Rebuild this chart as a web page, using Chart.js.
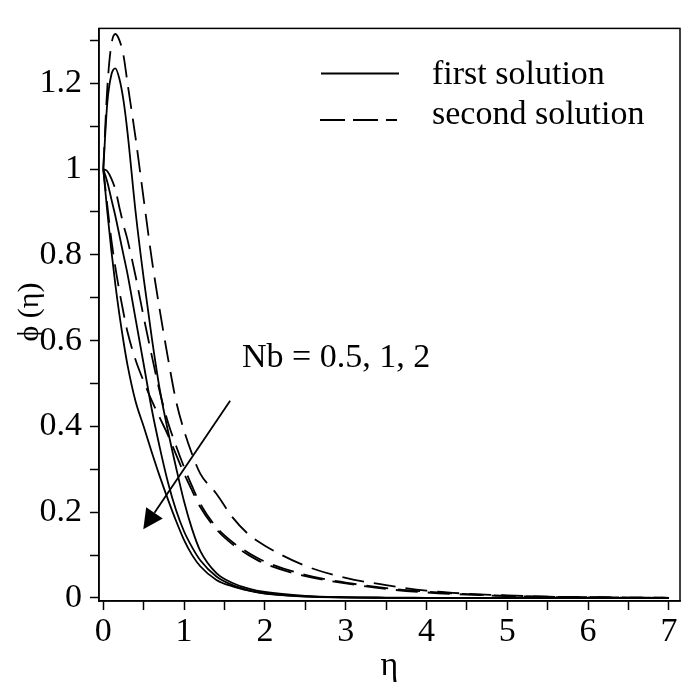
<!DOCTYPE html>
<html>
<head>
<meta charset="utf-8">
<script src="https://cdn.jsdelivr.net/npm/chart.js@4.4.1/dist/chart.umd.min.js"></script>
<style>
  html, body { margin: 0; padding: 0; background: #fff; }
  canvas { display: block; }
</style>
</head>
<body>
<canvas id="phiChart" width="685" height="694"></canvas>
<script>
const SERIF = "'Liberation Serif', 'Times New Roman', serif";

// eta grid shared by every curve
const eta = [0, 0.05, 0.1, 0.15, 0.2, 0.25, 0.3, 0.4, 0.5, 0.6, 0.7, 0.8, 0.9, 1.0, 1.1, 1.2,
             1.4, 1.6, 1.8, 2.0, 2.5, 3, 3.5, 4, 4.5, 5, 5.5, 6, 6.5, 7];

// first solution (solid)
const firstNb05 = [1.0, 1.155, 1.22, 1.235, 1.21, 1.16, 1.085, 0.9, 0.745, 0.607, 0.485, 0.39, 0.305, 0.225, 0.16, 0.11,
                   0.058, 0.035, 0.022, 0.014, 0.005, 0.002, 0.001, 0.0005, 0, 0, 0, 0, 0, 0];
const firstNb1  = [1.0, 0.97, 0.93, 0.89, 0.845, 0.8, 0.755, 0.65, 0.545, 0.44, 0.35, 0.27, 0.205, 0.155, 0.118, 0.088,
                   0.05, 0.03, 0.018, 0.011, 0.004, 0.0015, 0.0005, 0, 0, 0, 0, 0, 0, 0];
const firstNb2  = [1.0, 0.90, 0.81, 0.73, 0.66, 0.598, 0.543, 0.458, 0.4, 0.34, 0.283, 0.23, 0.18, 0.135, 0.1, 0.074,
                   0.042, 0.027, 0.017, 0.01, 0.003, 0.001, 0.0003, 0, 0, 0, 0, 0, 0, 0];

// second solution (dashed)
const secondNb05 = [1.0, 1.19, 1.29, 1.315, 1.3, 1.265, 1.2, 1.072, 0.93, 0.79, 0.67, 0.56, 0.46, 0.39, 0.335, 0.29,
                    0.243, 0.188, 0.148, 0.122, 0.075, 0.047, 0.03, 0.017, 0.01, 0.006, 0.003, 0.002, 0.001, 0.0005];
const secondNb1  = [1.0, 0.995, 0.978, 0.952, 0.91, 0.87, 0.835, 0.75, 0.655, 0.565, 0.48, 0.41, 0.355, 0.305, 0.26, 0.22,
                    0.165, 0.13, 0.105, 0.085, 0.054, 0.036, 0.023, 0.015, 0.009, 0.005, 0.003, 0.002, 0.001, 0.0005];
const secondNb2  = [1.0, 0.915, 0.835, 0.77, 0.715, 0.665, 0.62, 0.555, 0.505, 0.46, 0.42, 0.38, 0.335, 0.29, 0.25, 0.212,
                    0.16, 0.125, 0.1, 0.08, 0.051, 0.034, 0.021, 0.013, 0.008, 0.0045, 0.0025, 0.0015, 0.001, 0.0005];

// arrow "Nb = 0.5, 1, 2": [eta, phi] of tail and head
const arrowFrom = [1.57, 0.46];
const arrowTo = [0.495, 0.16];

const DASH = [22, 10];

function curve(label, values, dashed) {
    return {
        label: label,
        data: eta.map((x, i) => ({ x: x, y: values[i] })),
        borderColor: '#000',
        borderWidth: 1.8,
        borderDash: dashed ? DASH : [],
        pointRadius: 0,
        cubicInterpolationMode: 'monotone',
        fill: false
    };
}

// frame, legend, annotation text, arrow and y title
const extras = {
    id: 'extras',
    afterDraw(chart) {
        const { ctx, chartArea: a, scales: { x, y } } = chart;
        ctx.save();
        ctx.strokeStyle = '#000';
        ctx.fillStyle = '#000';

        ctx.lineWidth = 1.5;
        ctx.strokeRect(a.left, a.top, a.right - a.left, a.bottom - a.top);

        // legend
        ctx.lineWidth = 1.8;
        ctx.beginPath();
        ctx.moveTo(321, 73.5);
        ctx.lineTo(399, 73.5);
        ctx.stroke();
        ctx.setLineDash([25, 8]);
        ctx.beginPath();
        ctx.moveTo(320, 120);
        ctx.lineTo(397, 120);
        ctx.stroke();
        ctx.setLineDash([]);

        ctx.font = '34px ' + SERIF;
        ctx.textBaseline = 'alphabetic';
        ctx.textAlign = 'left';
        ctx.fillText('first solution', 432, 83.5);
        ctx.fillText('second solution', 432, 123.5);
        ctx.fillText('Nb = 0.5, 1, 2', 242, 367);

        // arrow
        const x1 = x.getPixelForValue(arrowFrom[0]), y1 = y.getPixelForValue(arrowFrom[1]);
        const x2 = x.getPixelForValue(arrowTo[0]), y2 = y.getPixelForValue(arrowTo[1]);
        const ang = Math.atan2(y2 - y1, x2 - x1);
        const headLen = 20, headHalf = 10;
        const bx = x2 - headLen * Math.cos(ang), by = y2 - headLen * Math.sin(ang);
        ctx.lineWidth = 1.8;
        ctx.beginPath();
        ctx.moveTo(x1, y1);
        ctx.lineTo(bx, by);
        ctx.stroke();
        ctx.beginPath();
        ctx.moveTo(x2, y2);
        ctx.lineTo(bx + headHalf * Math.sin(ang), by - headHalf * Math.cos(ang));
        ctx.lineTo(bx - headHalf * Math.sin(ang), by + headHalf * Math.cos(ang));
        ctx.closePath();
        ctx.fill();

        // y axis title
        ctx.translate(30, 312);
        ctx.rotate(-Math.PI / 2);
        ctx.textAlign = 'center';
        ctx.textBaseline = 'middle';
        ctx.font = '30px ' + SERIF;
        ctx.fillText('\u03D5 (\u03B7)', 0, 0);
        ctx.restore();
    }
};

const ctx = document.getElementById('phiChart').getContext('2d');
new Chart(ctx, {
    type: 'line',
    data: {
        datasets: [
            curve('first solution Nb=0.5', firstNb05, false),
            curve('first solution Nb=1', firstNb1, false),
            curve('first solution Nb=2', firstNb2, false),
            curve('second solution Nb=0.5', secondNb05, true),
            curve('second solution Nb=1', secondNb1, true),
            curve('second solution Nb=2', secondNb2, true)
        ]
    },
    options: {
        responsive: false,
        animation: false,
        devicePixelRatio: 1,
        layout: { padding: { top: 6, right: 5, left: 0, bottom: 0 } },
        plugins: {
            legend: { display: false },
            tooltip: { enabled: false }
        },
        scales: {
            x: {
                type: 'linear',
                min: -0.053,
                max: 7.137,
                afterFit: (s) => { s.height = 93; },
                border: { display: true, color: '#000', width: 1.5 },
                grid: { display: true, drawOnChartArea: false, drawTicks: true, tickLength: 9, tickColor: '#000', tickWidth: 1.5 },
                ticks: {
                    stepSize: 0.5,
                    includeBounds: false,
                    autoSkip: false,
                    maxRotation: 0,
                    padding: 2,
                    color: '#000',
                    font: { family: SERIF, size: 34 },
                    callback: (v) => Math.abs(v - Math.round(v)) < 1e-6 ? String(Math.round(v)) : ''
                },
                title: {
                    display: true,
                    text: '\u03B7',
                    color: '#000',
                    font: { family: SERIF, size: 34 },
                    padding: { top: 0, bottom: 8 }
                }
            },
            y: {
                type: 'linear',
                min: -0.007,
                max: 1.328,
                afterFit: (s) => { s.width = 99; },
                border: { display: true, color: '#000', width: 1.5 },
                grid: { display: true, drawOnChartArea: false, drawTicks: true, tickLength: 9, tickColor: '#000', tickWidth: 1.5 },
                ticks: {
                    stepSize: 0.1,
                    includeBounds: false,
                    autoSkip: false,
                    padding: 8,
                    color: '#000',
                    font: { family: SERIF, size: 34 },
                    callback: (v) => {
                        const k = Math.round(v * 10);
                        return k % 2 === 0 ? String(k / 10) : '';
                    }
                }
            }
        }
    },
    plugins: [extras]
});
</script>
</body>
</html>
